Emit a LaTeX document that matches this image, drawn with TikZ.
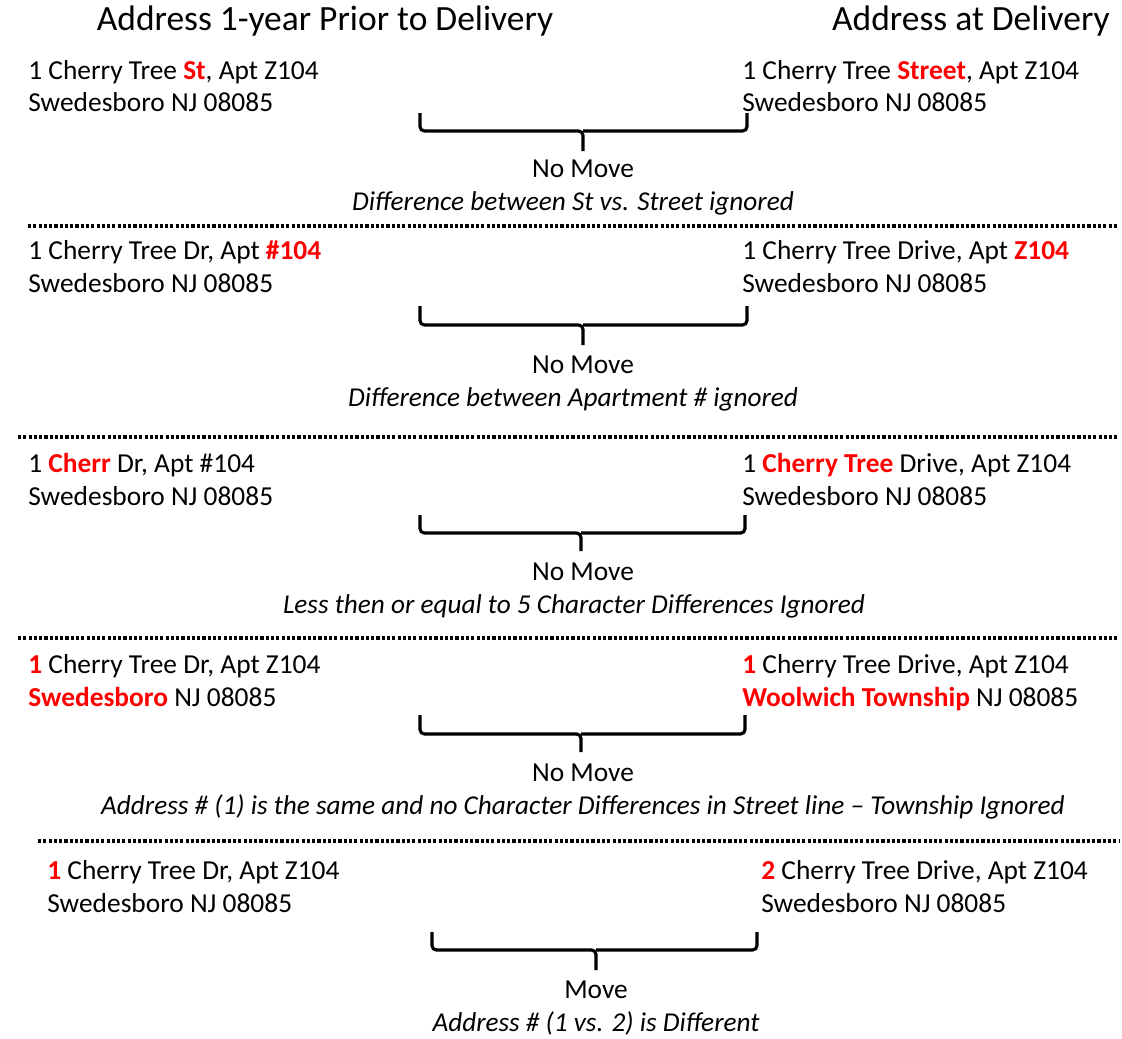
\documentclass[tikz,border=0pt]{standalone}
\usepackage{fontspec}
\setmainfont{Carlito}
\tikzset{
 addr/.style={anchor=base west,inner sep=0pt,font=\fontsize{15.6}{19}\selectfont},
 verdict/.style={anchor=base,inner sep=0pt,font=\fontsize{15.6}{19}\selectfont},
 reason/.style={anchor=base,inner sep=0pt,font=\fontsize{15.5}{19}\selectfont\itshape},
 heading/.style={anchor=base,inner sep=0pt,font=\fontsize{20.2}{24}\selectfont},
 addrbrace/.style={line width=1.8pt,rounded corners=2.5pt},
 sep/.style={line width=1.8pt,dash pattern=on 1.8pt off 1.2pt}
}
\newcommand{\hl}[1]{\textcolor{red}{\textbf{#1}}}
\begin{document}
\begin{tikzpicture}[x=0.02cm,y=-0.02cm]
 \useasboundingbox (0,0) rectangle (1122,1038);
 \node[heading] (prior) at (325,30) {Address 1-year Prior to Delivery}; %見出し
 \node[heading,anchor=base east] (deliv) at (1110,30) {Address at Delivery};
 % 1
 \node[addr] (p1a) at (28,79) {1 Cherry Tree \hl{St}, Apt Z104};
 \node[addr] (p1b) at (28,111) {Swedesboro NJ 08085};
 \node[addr] (d1a) at (742,79) {1 Cherry Tree \hl{Street}, Apt Z104};
 \node[addr] (d1b) at (742,111) {Swedesboro NJ 08085};
 \draw[addrbrace] (420,113) |- (583,131) -- (583,151);
 \draw[addrbrace] (747,113) |- (583,131);
 \node[verdict] (v1) at (583,177) {No Move};
 \node[reason] (r1) at (573,210) {Difference between St vs. Street ignored};
 \draw[sep] (28,226) -- (1117,226);
 % 2
 \node[addr] (p2a) at (28,259) {1 Cherry Tree Dr, Apt \hl{\#104}};
 \node[addr] (p2b) at (28,292) {Swedesboro NJ 08085};
 \node[addr] (d2a) at (742,259) {1 Cherry Tree Drive, Apt \hl{Z104}};
 \node[addr] (d2b) at (742,292) {Swedesboro NJ 08085};
 \draw[addrbrace] (420,306) |- (583,325) -- (583,345);
 \draw[addrbrace] (747,306) |- (583,325);
 \node[verdict] (v2) at (583,373) {No Move};
 \node[reason] (r2) at (573,406) {Difference between Apartment \# ignored};
 \draw[sep] (18,437) -- (1117,437);
 % 3
 \node[addr] (p3a) at (28,472) {1 \hl{Cherr} Dr, Apt \#104};
 \node[addr] (p3b) at (28,505) {Swedesboro NJ 08085};
 \node[addr] (d3a) at (742,472) {1 \hl{Cherry Tree} Drive, Apt Z104};
 \node[addr] (d3b) at (742,505) {Swedesboro NJ 08085};
 \draw[addrbrace] (420,515) |- (581,533) -- (581,551);
 \draw[addrbrace] (745,515) |- (581,533);
 \node[verdict] (v3) at (583,580) {No Move};
 \node[reason] (r3) at (574,613) {Less then or equal to 5 Character Differences Ignored};
 \draw[sep] (18,638) -- (1117,638);
 % 4
 \node[addr] (p4a) at (28,673) {\hl{1} Cherry Tree Dr, Apt Z104};
 \node[addr] (p4b) at (28,706) {\hl{Swedesboro} NJ 08085};
 \node[addr] (d4a) at (742,673) {\hl{1} Cherry Tree Drive, Apt Z104};
 \node[addr] (d4b) at (742,706) {\hl{Woolwich Township} NJ 08085};
 \draw[addrbrace] (420,715) |- (581,734) -- (581,752);
 \draw[addrbrace] (745,715) |- (581,734);
 \node[verdict] (v4) at (583,781) {No Move};
 \node[reason] (r4) at (583,814) {Address \# (1) is the same and no Character Differences in Street line – Township Ignored};
 \draw[sep] (38,841) -- (1120,841);
 % 5
 \node[addr] (p5a) at (47,879) {\hl{1} Cherry Tree Dr, Apt Z104};
 \node[addr] (p5b) at (47,912) {Swedesboro NJ 08085};
 \node[addr] (d5a) at (761,879) {\hl{2} Cherry Tree Drive, Apt Z104};
 \node[addr] (d5b) at (761,912) {Swedesboro NJ 08085};
 \draw[addrbrace] (432,932) |- (596,950) -- (596,970);
 \draw[addrbrace] (757,932) |- (596,950);
 \node[verdict] (v5) at (596,998) {Move};
 \node[reason] (r5) at (596,1031) {Address \# (1 vs. 2) is Different};
\end{tikzpicture}
\end{document}
